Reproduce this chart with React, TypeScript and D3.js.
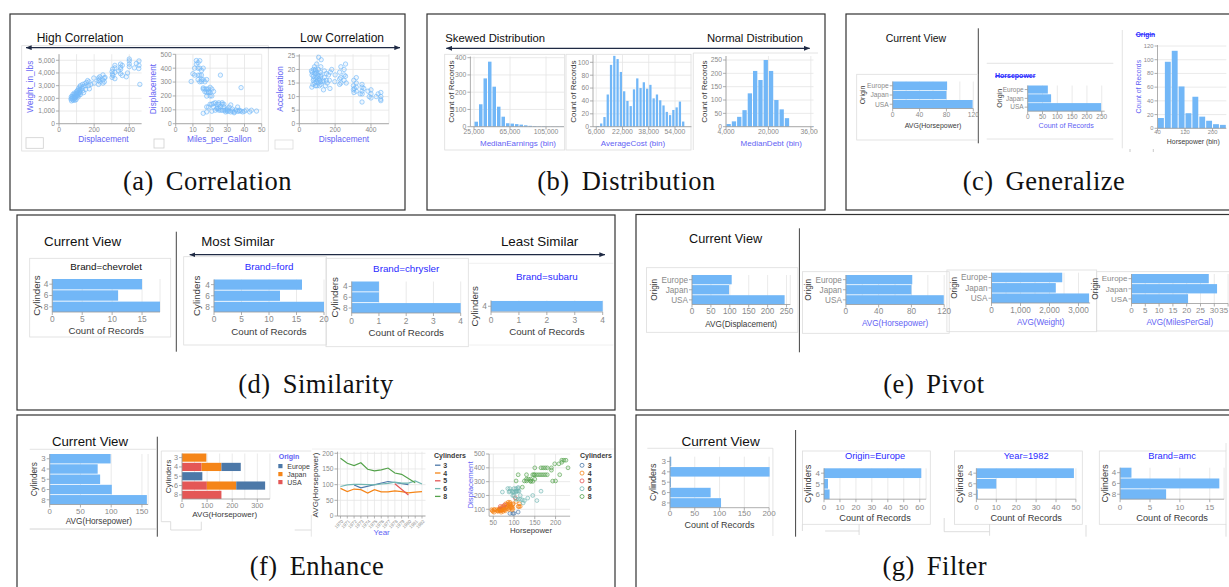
import React from "react";
import * as d3 from "d3";

const SANS = "'Liberation Sans', Arial, Helvetica, sans-serif";
const SERIF = "'Liberation Serif', 'Times New Roman', serif";
const BAR = "#72b7f7";
const GRID = "#e4e4e4";
const AX = "#9a9a9a";
const LAB = "#8a8a8a";
const DARK = "#3a3a3a";
const BLUE = "#6262f4";
const TBLUE = "#2a2aff";
const FRAME = "#dddddd";
const BORDER = "#333";
const ARROW = "#1f2a44";
const PT = "#74b9f8";
const fmtComma = d3.format(",");

// ---------------- (a) Correlation data ----------------
const corrDispWeight: [number, number][] = [
  [68,1950],[70,2130],[71,1800],[72,2000],[76,2150],[78,1900],[79,2050],[79,2300],[81,1850],[85,2070],
  [85,2200],[86,2400],[89,1980],[90,2130],[90,2300],[91,1850],[91,2050],[97,2150],[97,2400],[97,1900],
  [98,2220],[98,2500],[100,2300],[104,2600],[105,2200],[107,2450],[108,2100],[108,2650],[110,2350],[112,2800],
  [113,2250],[116,2500],[119,2700],[120,2450],[120,2900],[121,2600],[121,3000],[122,2300],[130,2800],[134,3100],
  [135,2600],[140,2950],[140,2450],[146,3150],[151,2700],[151,3000],[156,3250],[163,3400],[168,3000],[171,3300],
  [173,2750],[181,3100],[198,3600],[200,3200],[225,3400],[225,3600],[225,3100],[231,3500],[232,3300],[232,3700],
  [250,3450],[250,3850],[250,3200],[258,3600],[258,3300],[262,3650],[302,3650],[302,4100],[304,3900],[305,4300],
  [307,3800],[318,4050],[318,4400],[318,4600],[318,3550],[340,4150],[350,4450],[350,4700],[350,3950],[351,4300],
  [360,3800],[360,4600],[383,3700],[390,4000],[400,4500],[400,4950],[400,5100],[400,4700],[429,4400],[440,4750],
  [454,4350],[455,4950],[455,4600],[460,3100]
];
const corrMpgDisp: [number, number][] = [
  [9,304],[10,360],[11,400],[11,350],[12,455],[12,429],[13,400],[13,350],[13,318],[13,440],[14,454],[14,350],
  [14,302],[14,400],[15,350],[15,383],[15,318],[15,304],[16,400],[16,318],[16,250],[16,258],[17,302],[17,250],
  [17,231],[18,250],[18,225],[18,318],[18,199],[18,121],[19,232],[19,225],[19,250],[19,120],[20,262],[20,225],
  [20,140],[20,200],[21,250],[21,200],[21,140],[22,232],[22,146],[22,121],[23,97],[23,151],[24,113],[24,107],
  [24,140],[25,98],[25,110],[25,151],[25,140],[26,97],[26,121],[26,350],[27,97],[27,140],[27,151],[28,97],
  [28,120],[28,140],[29,98],[29,85],[30,98],[30,89],[30,107],[31,91],[31,119],[32,85],[32,135],[33,91],
  [33,105],[34,86],[34,79],[35,98],[36,89],[36,120],[37,91],[37,97],[38,91],[38,260],[39,85],[40,90],
  [41,98],[43,85],[44,97],[47,91],[16,75],[18,85],[21,90]
];
const corrDispAccel: [number, number][] = [
  [68,19.5],[70,13.5],[71,18],[72,19],[76,14.5],[78,16],[79,17.5],[79,20],[81,16.5],[85,18.5],[85,21],[86,15],
  [89,19.5],[90,20],[90,14],[91,16.5],[91,18.5],[97,15.5],[97,19],[97,22],[98,17],[98,14],[100,16],[104,18],
  [105,15],[107,20],[108,16.5],[108,24.5],[110,17.5],[112,14],[113,16],[116,19],[119,15.5],[120,17.5],[120,21],
  [121,14.5],[121,18],[122,23.6],[130,15.5],[134,16],[135,12.5],[140,17],[140,19.5],[146,14],[151,18.5],[151,16],
  [156,15],[163,18],[168,16],[171,13],[173,19],[181,20],[198,15.5],[200,18],[225,16.5],[225,19],[225,14.5],
  [231,17],[232,21],[232,15],[250,18],[250,16],[250,20],[258,17.5],[258,22],[262,15],[302,14],[302,12.5],
  [304,16],[305,11.5],[307,13],[318,15],[318,12],[318,13.5],[318,17],[340,11],[350,12],[350,13.5],[350,14.5],
  [350,8],[351,11],[360,13],[383,12],[390,10],[400,11],[400,12.5],[400,9.5],[429,10],[440,11],[454,9],
  [455,10],[455,11.5],[455,8.5]
];

// ---------------- (b) Distribution data ----------------
const medianEarningsCounts = [29,130,280,377,232,116,58,20,18,15,12,8,5,3,2,2,1,1,1,1];
const averageCostCounts = [1,5,15,50,96,110,105,85,55,40,32,58,75,60,69,59,65,44,50,41,33,23,18,26,30,39,8];
const medianDebtCounts = [10,20,37,62,125,209,175,250,209,100,65,32,0,0,0,0];
const earningsTicks = [25000, 65000, 105000];
const costTicks = [6000, 22000, 38000, 54000];
const debtTicks = [4000, 20000, 36000];

// ---------------- (c) Generalize data ----------------
const origins = ["Europe", "Japan", "USA"];
const avgHorsepowerByOrigin = [81, 80, 119];
const countByOrigin = [68, 79, 248];
const hpBinCounts = [15, 97, 113, 61, 22, 46, 17, 11, 6, 5];

// ---------------- (d) Similarity data ----------------
const cyl468 = ["4", "6", "8"];
const chevroletCounts = [15, 11, 18];
const fordCounts = [16, 12, 20];
const chryslerCounts = [1, 1, 4];
const subaruCats = ["4"];
const subaruCounts = [4];

// ---------------- (e) Pivot data ----------------
const avgDisplacement = [105, 98, 245];
const avgHorsepowerPivot = [81, 80, 119.5];
const avgWeight = [2439, 2217, 3365];
const avgMilesPerGal = [28, 31, 20.5];

// ---------------- (f) Enhance data ----------------
const cylAll = ["3", "4", "5", "6", "8"];
const avgHpByCyl = [99, 78, 82, 101, 158];
const stackUSA = [0, 78, 0, 99, 157];
const stackJapan = [97, 79, 0, 117, 0];
const stackEurope = [0, 77, 81, 115, 0];
const lineYears = [1970,1971,1972,1973,1974,1975,1976,1977,1978,1979,1980,1981,1982];
const hpCyl3Years = [1972, 1973, 1977, 1980];
const hpCyl3 = [99, 90, 110, 100];
const hpCyl4 = [88, 78, 86, 84, 73, 84, 77, 77, 80, 78, 74, 76, 78];
const hpCyl5Years = [1978, 1980];
const hpCyl5 = [103, 67];
const hpCyl6 = [94, 99, 101, 101, 100, 99, 102, 104, 108, 105, 105, 112, 102];
const hpCyl8Years = [1970,1971,1972,1973,1974,1975,1976,1977,1978,1979,1981];
const hpCyl8 = [184, 168, 161, 170, 149, 144, 147, 153, 137, 133, 106];
const cylColors = ["#4c78a8", "#f58518", "#e45756", "#72b7b2", "#54a24b"];
const scat3: [number, number][] = [[90,70],[97,70],[100,70],[110,80]];
const scat4: [number, number][] = [
  [46,97],[48,90],[49,85],[52,79],[52,98],[53,97],[58,98],[60,89],[61,85],[62,91],[63,97],[65,97],[65,98],
  [65,105],[67,90],[67,91],[67,98],[68,97],[68,108],[69,79],[70,97],[70,91],[71,98],[72,97],[72,120],[74,85],
  [75,98],[75,107],[75,121],[76,98],[76,116],[78,97],[79,89],[80,116],[80,140],[82,135],[83,120],[84,105],
  [85,134],[86,119],[86,151],[88,108],[88,140],[88,98],[90,151],[90,140],[91,122],[92,112],[92,135],[94,108],
  [95,120],[96,97],[97,107],[97,134],[98,140],[105,156],[110,121],[112,119],[113,140],[115,121]
];
const scat5: [number, number][] = [[67,121],[77,131],[103,183]];
const scat6: [number, number][] = [
  [72,225],[85,250],[88,225],[90,250],[90,232],[95,232],[97,199],[97,225],[100,250],[100,225],[100,200],
  [105,225],[105,250],[105,231],[105,173],[107,232],[110,258],[110,232],[110,250],[110,173],[112,231],[115,173],
  [115,200],[120,168],[122,146],[125,163],[133,181],[145,200],[155,163],[165,231]
];
const scat8: [number, number][] = [
  [105,305],[110,350],[120,260],[125,305],[130,305],[130,318],[130,350],[135,318],[140,302],[140,318],[140,305],
  [145,350],[145,302],[148,350],[150,400],[150,350],[150,318],[155,350],[160,350],[165,400],[165,350],[170,400],
  [170,350],[175,400],[175,350],[180,350],[180,400],[190,400],[190,383],[193,304],[198,429],[200,305],[208,429],
  [210,350],[215,440],[215,455],[220,455],[225,455],[230,400]
];
const originLegend = ["Europe", "Japan", "USA"];
const originColors = ["#4c78a8", "#f58518", "#e45756"];

// ---------------- (g) Filter data ----------------
const filterCurrentCounts = [2.5, 201, 2, 82, 103];
const europeCats = ["4", "5", "6"];
const europeCounts = [61, 2.5, 3.5];
const year1982Counts = [49, 10, 0.7];
const amcCounts = [1.9, 16.6, 7.7];

// ================= components =================
type HBarP = {
  cats: string[]; vals: number[]; max: number; x0: number; x1: number; y0: number; y1: number;
  ticks: number[]; grid?: number[]; endLine?: boolean; fs: number; tfs: number; labelY: number;
  xTitle: string; xTitleY: number; xTitleColor?: string; yTitle: string; yTitleX: number;
  title?: string; titleY?: number; titleSize?: number; titleColor?: string; flushLast?: boolean;
};
function HBar(p: HBarP) {
  const x = d3.scaleLinear().domain([0, p.max]).range([p.x0, p.x1]);
  const y = d3.scaleBand<string>().domain(p.cats).range([p.y0, p.y1]).paddingInner(0.08);
  const grid = p.grid ?? p.ticks;
  const cx = (p.x0 + p.x1) / 2;
  const n = p.ticks.length;
  return (
    <g>
      {grid.map((v, i) => <line key={"g" + i} x1={x(v)} x2={x(v)} y1={p.y0} y2={p.y1} stroke={GRID} strokeWidth={0.8} />)}
      {p.endLine && <line x1={p.x1} x2={p.x1} y1={p.y0} y2={p.y1} stroke={GRID} strokeWidth={0.8} />}
      {p.cats.map((c, i) => (
        <rect key={"b" + c} x={p.x0} y={y(c)} width={Math.max(0, x(p.vals[i]) - p.x0)} height={y.bandwidth()} fill={BAR} />
      ))}
      <line x1={p.x0} x2={p.x0} y1={p.y0} y2={p.y1} stroke={AX} strokeWidth={0.8} />
      <line x1={p.x0} x2={p.x1} y1={p.y1} y2={p.y1} stroke={AX} strokeWidth={0.8} />
      {p.cats.map((c) => {
        const cy = (y(c) as number) + y.bandwidth() / 2;
        return (
          <g key={"t" + c}>
            <line x1={p.x0 - 3} x2={p.x0} y1={cy} y2={cy} stroke={AX} strokeWidth={0.8} />
            <text x={p.x0 - 4} y={cy} dy="0.35em" textAnchor="end" fontSize={p.fs} fill={LAB}>{c}</text>
          </g>
        );
      })}
      {p.ticks.map((v, i) => (
        <g key={"x" + i}>
          <line x1={x(v)} x2={x(v)} y1={p.y1} y2={p.y1 + 3} stroke={AX} strokeWidth={0.8} />
          <text x={x(v)} y={p.labelY} textAnchor={p.flushLast && i === n - 1 ? "end" : "middle"} fontSize={p.fs} fill={LAB}>{fmtComma(v)}</text>
        </g>
      ))}
      <text x={cx} y={p.xTitleY} textAnchor="middle" fontSize={p.tfs} fill={p.xTitleColor ?? DARK}>{p.xTitle}</text>
      <text transform={`translate(${p.yTitleX},${(p.y0 + p.y1) / 2}) rotate(-90)`} dy="0.35em" textAnchor="middle" fontSize={p.tfs} fill={DARK}>{p.yTitle}</text>
      {p.title && <text x={cx} y={p.titleY} textAnchor="middle" fontSize={p.titleSize} fill={p.titleColor ?? "#111"}>{p.title}</text>}
    </g>
  );
}

type HistP = {
  counts: number[]; start: number; step: number; xDom: [number, number]; xRng: [number, number];
  yMax: number; yAtMax: number; yBase: number; plotTop: number; yTicks: number[]; xTicks: number[];
  fs: number; tfs: number; labelY: number; xTitle: string; xTitleX: number; xTitleY: number; xTitleColor: string;
  yTitle: string; yTitleX: number; yTitleY: number; yTitleColor: string; vGrid?: boolean;
};
function Hist(p: HistP) {
  const x = d3.scaleLinear().domain(p.xDom).range(p.xRng);
  const y = d3.scaleLinear().domain([0, p.yMax]).range([p.yBase, p.yAtMax]);
  return (
    <g>
      {p.yTicks.map((v, i) => <line key={"h" + i} x1={p.xRng[0]} x2={p.xRng[1]} y1={y(v)} y2={y(v)} stroke={GRID} strokeWidth={0.8} />)}
      {p.vGrid && p.xTicks.map((v, i) => <line key={"v" + i} x1={x(v)} x2={x(v)} y1={p.plotTop} y2={p.yBase} stroke={GRID} strokeWidth={0.8} />)}
      {p.counts.map((c, i) => {
        const a = p.start + i * p.step;
        const xa = x(a) + 0.5, xb = x(a + p.step) - 0.5;
        return c > 0 ? <rect key={"b" + i} x={xa} y={y(c)} width={Math.max(0.3, xb - xa)} height={p.yBase - y(c)} fill={BAR} /> : null;
      })}
      <line x1={p.xRng[0]} x2={p.xRng[0]} y1={p.plotTop} y2={p.yBase} stroke={AX} strokeWidth={0.8} />
      <line x1={p.xRng[0]} x2={p.xRng[1]} y1={p.yBase} y2={p.yBase} stroke={AX} strokeWidth={0.8} />
      {p.yTicks.map((v, i) => (
        <g key={"yt" + i}>
          <line x1={p.xRng[0] - 3} x2={p.xRng[0]} y1={y(v)} y2={y(v)} stroke={AX} strokeWidth={0.8} />
          <text x={p.xRng[0] - 4} y={y(v)} dy="0.35em" textAnchor="end" fontSize={p.fs} fill={LAB}>{fmtComma(v)}</text>
        </g>
      ))}
      {p.xTicks.map((v, i) => (
        <g key={"xt" + i}>
          <line x1={x(v)} x2={x(v)} y1={p.yBase} y2={p.yBase + 3} stroke={AX} strokeWidth={0.8} />
          <text x={x(v)} y={p.labelY} textAnchor="middle" fontSize={p.fs} fill={LAB}>{fmtComma(v)}</text>
        </g>
      ))}
      <text x={p.xTitleX} y={p.xTitleY} textAnchor="middle" fontSize={p.tfs} fill={p.xTitleColor}>{p.xTitle}</text>
      <text transform={`translate(${p.yTitleX},${p.yTitleY}) rotate(-90)`} dy="0.35em" textAnchor="middle" fontSize={p.tfs} fill={p.yTitleColor}>{p.yTitle}</text>
    </g>
  );
}

type ScatP = {
  groups: { pts: [number, number][]; color: string }[];
  xDom: [number, number]; xRng: [number, number]; yDom: [number, number]; yRng: [number, number];
  xTicks: number[]; xGrid?: number[]; yTicks: number[]; fs: number; tfs: number; labelY: number;
  xTitle: string; xTitleX: number; xTitleY: number; xTitleColor: string;
  yTitle: string; yTitleX: number; yTitleY: number; yTitleColor: string; r?: number;
};
function Scatter(p: ScatP) {
  const x = d3.scaleLinear().domain(p.xDom).range(p.xRng);
  const y = d3.scaleLinear().domain(p.yDom).range(p.yRng);
  const xg = p.xGrid ?? p.xTicks;
  const x0 = p.xRng[0], x1 = p.xRng[1], yb = p.yRng[0], yt = p.yRng[1];
  return (
    <g>
      {xg.map((v, i) => <line key={"xg" + i} x1={x(v)} x2={x(v)} y1={yt} y2={yb} stroke={GRID} strokeWidth={0.8} />)}
      {p.yTicks.map((v, i) => <line key={"yg" + i} x1={x0} x2={x1} y1={y(v)} y2={y(v)} stroke={GRID} strokeWidth={0.8} />)}
      {p.groups.map((g, gi) => g.pts.map((d, i) => (
        <circle key={gi + "-" + i} cx={x(d[0])} cy={y(d[1])} r={p.r ?? 2.2} fill={g.color} fillOpacity={0.12} stroke={g.color} strokeWidth={0.75} strokeOpacity={0.85} />
      )))}
      <line x1={x0} x2={x0} y1={yt} y2={yb} stroke={AX} strokeWidth={0.8} />
      <line x1={x0} x2={x1} y1={yb} y2={yb} stroke={AX} strokeWidth={0.8} />
      {p.yTicks.map((v, i) => (
        <g key={"yt" + i}>
          <line x1={x0 - 3} x2={x0} y1={y(v)} y2={y(v)} stroke={AX} strokeWidth={0.8} />
          <text x={x0 - 4} y={y(v)} dy="0.35em" textAnchor="end" fontSize={p.fs} fill={LAB}>{fmtComma(v)}</text>
        </g>
      ))}
      {p.xTicks.map((v, i) => (
        <g key={"xt" + i}>
          <line x1={x(v)} x2={x(v)} y1={yb} y2={yb + 3} stroke={AX} strokeWidth={0.8} />
          <text x={x(v)} y={p.labelY} textAnchor="middle" fontSize={p.fs} fill={LAB}>{fmtComma(v)}</text>
        </g>
      ))}
      <text x={p.xTitleX} y={p.xTitleY} textAnchor="middle" fontSize={p.tfs} fill={p.xTitleColor}>{p.xTitle}</text>
      <text transform={`translate(${p.yTitleX},${p.yTitleY}) rotate(-90)`} dy="0.35em" textAnchor="middle" fontSize={p.tfs} fill={p.yTitleColor}>{p.yTitle}</text>
    </g>
  );
}

function Caption({ cx, y, tag, word }: { cx: number; y: number; tag: string; word: string }) {
  return (
    <text x={cx} y={y} textAnchor="middle" fontFamily={SERIF} fontSize={26.5} fill="#111" style={{ letterSpacing: "0.5px" }}>
      <tspan>{tag}</tspan><tspan dx={12}>{word}</tspan>
    </text>
  );
}

function StackedChart() {
  const rows = cylAll.map((c, i) => ({ cyl: c, USA: stackUSA[i], Japan: stackJapan[i], Europe: stackEurope[i] }));
  const keys = ["USA", "Japan", "Europe"];
  const colorOf: Record<string, string> = { Europe: originColors[0], Japan: originColors[1], USA: originColors[2] };
  const stacked = d3.stack<any>().keys(keys)(rows);
  const x0 = 182, x1 = 269.9, y0 = 453.5, y1 = 499;
  const x = d3.scaleLinear().domain([0, 350]).range([x0, x1]);
  const y = d3.scaleBand<string>().domain(cylAll).range([y0, y1]).paddingInner(0.12);
  const ticks = [0, 100, 200, 300];
  const grid = [0, 50, 100, 150, 200, 250, 300, 350];
  return (
    <g>
      {grid.map((v, i) => <line key={"g" + i} x1={x(v)} x2={x(v)} y1={y0} y2={y1} stroke={GRID} strokeWidth={0.8} />)}
      {stacked.map((s) => s.map((d, i) => d[1] - d[0] > 0 ? (
        <rect key={s.key + i} x={x(d[0])} y={y(cylAll[i])} width={x(d[1]) - x(d[0])} height={y.bandwidth()} fill={colorOf[s.key]} />
      ) : null))}
      <line x1={x0} x2={x0} y1={y0} y2={y1} stroke={AX} strokeWidth={0.8} />
      <line x1={x0} x2={x1} y1={y1} y2={y1} stroke={AX} strokeWidth={0.8} />
      {cylAll.map((c) => {
        const cy = (y(c) as number) + y.bandwidth() / 2;
        return (
          <g key={"t" + c}>
            <line x1={x0 - 3} x2={x0} y1={cy} y2={cy} stroke={AX} strokeWidth={0.8} />
            <text x={x0 - 4} y={cy} dy="0.35em" textAnchor="end" fontSize={7.3} fill={LAB}>{c}</text>
          </g>
        );
      })}
      {ticks.map((v) => (
        <g key={"x" + v}>
          <line x1={x(v)} x2={x(v)} y1={y1} y2={y1 + 3} stroke={AX} strokeWidth={0.8} />
          <text x={x(v)} y={507.7} textAnchor="middle" fontSize={7.3} fill={LAB}>{v}</text>
        </g>
      ))}
      <text x={224.7} y={516.7} textAnchor="middle" fontSize={8} fill={DARK}>AVG(Horsepower)</text>
      <text transform={`translate(168,476.5) rotate(-90)`} dy="0.35em" textAnchor="middle" fontSize={8} fill={DARK}>Cylinders</text>
      <text x={278.7} y={459} fontSize={7} fontWeight="bold" fill={BLUE}>Origin</text>
      {originLegend.map((o, i) => (
        <g key={o}>
          <rect x={278.3} y={469 + i * 8 - 5} width={4.2} height={4.2} fill={originColors[i]} />
          <text x={287.3} y={469 + i * 8} fontSize={7} fill={DARK}>{o}</text>
        </g>
      ))}
    </g>
  );
}

function LineChart() {
  const x = d3.scalePoint<number>().domain(lineYears).range([340.5, 422]);
  const y = d3.scaleLinear().domain([0, 200]).range([516, 453.3]);
  const series = [
    { yrs: hpCyl3Years, v: hpCyl3 },
    { yrs: lineYears, v: hpCyl4 },
    { yrs: hpCyl5Years, v: hpCyl5 },
    { yrs: lineYears, v: hpCyl6 },
    { yrs: hpCyl8Years, v: hpCyl8 },
  ];
  const line = d3.line<[number, number]>().x((d) => x(d[0]) as number).y((d) => y(d[1]));
  const xl = 337.5, xr = 425.5, yb = 516, yt = 451.7;
  return (
    <g>
      {lineYears.map((yr) => <line key={"vg" + yr} x1={x(yr)} x2={x(yr)} y1={yt} y2={yb} stroke={GRID} strokeWidth={0.7} />)}
      {[0, 50, 100, 150, 200].map((v) => <line key={"hg" + v} x1={xl} x2={xr} y1={y(v)} y2={y(v)} stroke={GRID} strokeWidth={0.8} />)}
      {series.map((s, i) => (
        <path key={"s" + i} d={line(s.yrs.map((yr, j) => [yr, s.v[j]] as [number, number])) as string} fill="none" stroke={cylColors[i]} strokeWidth={1.2} />
      ))}
      <line x1={xl} x2={xl} y1={yt} y2={yb} stroke={AX} strokeWidth={0.8} />
      <line x1={xl} x2={xr} y1={yb} y2={yb} stroke={AX} strokeWidth={0.8} />
      {[0, 50, 100, 150, 200].map((v) => (
        <g key={"yt" + v}>
          <line x1={xl - 3} x2={xl} y1={y(v)} y2={y(v)} stroke={AX} strokeWidth={0.8} />
          <text x={xl - 4} y={y(v)} dy="0.35em" textAnchor="end" fontSize={6.7} fill={LAB}>{v}</text>
        </g>
      ))}
      {lineYears.map((yr) => (
        <g key={"xt" + yr}>
          <line x1={x(yr)} x2={x(yr)} y1={yb} y2={yb + 2.5} stroke={AX} strokeWidth={0.7} />
          <text transform={`translate(${(x(yr) as number) + 1.5},${yb + 4}) rotate(-45)`} textAnchor="end" dy="0.5em" fontSize={4.6} fill={LAB}>{yr}</text>
        </g>
      ))}
      <text x={381.7} y={535} textAnchor="middle" fontSize={8} fill={BLUE}>Year</text>
      <text transform={`translate(315,485) rotate(-90)`} dy="0.35em" textAnchor="middle" fontSize={8} fill={DARK}>AVG(Horsepower)</text>
      <text x={434} y={458.3} fontSize={7} fontWeight="bold" fill={DARK}>Cylinders</text>
      {cylAll.map((c, i) => (
        <g key={"lg" + c}>
          <line x1={435} x2={440.5} y1={467.7 + i * 7.8 - 2.5} y2={467.7 + i * 7.8 - 2.5} stroke={cylColors[i]} strokeWidth={1.3} />
          <text x={443.3} y={467.7 + i * 7.8} fontSize={7} fontWeight="bold" fill={DARK}>{c}</text>
        </g>
      ))}
    </g>
  );
}

const fr = (x: number, y: number, w: number, h: number, k: string) => (
  <rect key={k} x={x} y={y} width={w} height={h} fill="none" stroke={FRAME} strokeWidth={0.8} />
);

export default function App() {
  const cyl5Groups = [scat3, scat4, scat5, scat6, scat8].map((pts, i) => ({ pts, color: cylColors[i] }));
  return (
    <svg width={1229} height={587} viewBox="0 0 1229 587" style={{ position: "absolute", left: 0, top: 0, background: "#fff" }} fontFamily={SANS}>
      <defs>
        <marker id="ah" viewBox="0 0 10 8" refX="9.5" refY="4" markerWidth="6" markerHeight="4.8" orient="auto-start-reverse" markerUnits="userSpaceOnUse">
          <path d="M0,0 L10,4 L0,8 z" fill={ARROW} />
        </marker>
        <clipPath id="clipB3"><rect x={693} y={45} width={125} height={110} /></clipPath>
      </defs>
      <rect x={0} y={0} width={1229} height={587} fill="#fff" />

      {/* ================= (a) ================= */}
      <rect x={10} y={14} width={395} height={196} fill="none" stroke={BORDER} strokeWidth={1.2} />
      <text x={36.7} y={41.7} fontSize={12} fill="#111">High Correlation</text>
      <text x={384} y={41.7} fontSize={12} textAnchor="end" fill="#111">Low Correlation</text>
      {fr(21.7, 45.7, 246.6, 105.3, "fa")}
      <Scatter groups={[{ pts: corrDispWeight, color: PT }]} xDom={[0, 470]} xRng={[59, 141.6]} yDom={[0, 5480]} yRng={[123.7, 54.2]}
        xTicks={[0, 200, 400]} xGrid={[0, 100, 200, 300, 400]} yTicks={[0, 1000, 2000, 3000, 4000, 5000]} fs={6.7} tfs={8.3} labelY={132.3}
        xTitle="Displacement" xTitleX={103.5} xTitleY={141.7} xTitleColor={BLUE} yTitle="Weight_in_lbs" yTitleX={30} yTitleY={86.7} yTitleColor={BLUE} />
      <Scatter groups={[{ pts: corrMpgDisp, color: PT }]} xDom={[0, 50]} xRng={[175.7, 261.7]} yDom={[0, 500]} yRng={[123.7, 54.3]}
        xTicks={[0, 10, 20, 30, 40, 50]} yTicks={[0, 100, 200, 300, 400, 500]} fs={6.7} tfs={8.3} labelY={132.3}
        xTitle="Miles_per_Gallon" xTitleX={219.3} xTitleY={142.3} xTitleColor={BLUE} yTitle="Displacement" yTitleX={152.7} yTitleY={89} yTitleColor={BLUE} />
      <Scatter groups={[{ pts: corrDispAccel, color: PT }]} xDom={[0, 500]} xRng={[299.3, 388.9]} yDom={[0, 25.6]} yRng={[123.7, 54.3]}
        xTicks={[0, 200, 400]} xGrid={[0, 100, 200, 300, 400, 500]} yTicks={[0, 5, 10, 15, 20, 25]} fs={6.7} tfs={8.3} labelY={132.3}
        xTitle="Displacement" xTitleX={344} xTitleY={142.3} xTitleColor={BLUE} yTitle="Acceleration" yTitleX={280} yTitleY={89} yTitleColor={BLUE} />
      <line x1={26} x2={400} y1={47.7} y2={47.7} stroke={ARROW} strokeWidth={1.3} markerStart="url(#ah)" markerEnd="url(#ah)" />
      <rect x={26} y={137.7} width={17.3} height={10.6} fill="none" stroke="#cfcfcf" strokeWidth={0.8} />
      <rect x={154} y={139} width={10} height={9} fill="none" stroke="#cfcfcf" strokeWidth={0.8} />
      <rect x={275} y={140} width={18} height={9} fill="none" stroke="#dcdcdc" strokeWidth={0.8} />
      <Caption cx={207.5} y={190} tag="(a)" word="Correlation" />

      {/* ================= (b) ================= */}
      <rect x={427} y={14} width={398} height={196} fill="none" stroke={BORDER} strokeWidth={1.2} />
      <text x={445.3} y={41.7} fontSize={11.3} fill="#111">Skewed Distribution</text>
      <text x={803} y={41.7} fontSize={11.3} textAnchor="end" fill="#111">Normal Distribution</text>
      {fr(444.7, 54.3, 120, 95.7, "fb1")}
      {fr(566, 54.3, 125, 95.7, "fb2")}
      <line x1={693.3} x2={818} y1={53} y2={53} stroke={FRAME} strokeWidth={0.8} />
      <line x1={693.3} x2={693.3} y1={53} y2={150} stroke={FRAME} strokeWidth={0.8} />
      <Hist counts={medianEarningsCounts} start={25000} step={5000} xDom={[21000, 125000]} xRng={[470.4, 564]}
        yMax={400} yAtMax={57.7} yBase={126.7} plotTop={56.5} yTicks={[0, 100, 200, 300, 400]} xTicks={earningsTicks}
        fs={6.8} tfs={8} labelY={134.3} xTitle="MedianEarnings (bin)" xTitleX={518} xTitleY={145.7} xTitleColor={BLUE}
        yTitle="Count of Records" yTitleX={451.3} yTitleY={91.7} yTitleColor={DARK} vGrid />
      <Hist counts={averageCostCounts} start={6000} step={2000} xDom={[4000, 64000]} xRng={[593, 691.4]}
        yMax={100} yAtMax={62.3} yBase={126.7} plotTop={55} yTicks={[0, 20, 40, 60, 80, 100]} xTicks={costTicks}
        fs={6.8} tfs={8} labelY={134.3} xTitle="AverageCost (bin)" xTitleX={633} xTitleY={145.7} xTitleColor={BLUE}
        yTitle="Count of Records" yTitleX={573} yTitleY={91.7} yTitleColor={DARK} vGrid />
      <g clipPath="url(#clipB3)">
        <Hist counts={medianDebtCounts} start={4000} step={2000} xDom={[4000, 37000]} xRng={[726, 813.5]}
          yMax={250} yAtMax={60} yBase={126.7} plotTop={56} yTicks={[0, 50, 100, 150, 200, 250]} xTicks={debtTicks}
          fs={6.8} tfs={8} labelY={134.3} xTitle="MedianDebt (bin)" xTitleX={771.3} xTitleY={145.7} xTitleColor={BLUE}
          yTitle="Count of Records" yTitleX={704} yTitleY={91.7} yTitleColor={DARK} vGrid />
        <rect x={812.5} y={126.2} width={1.2} height={0.5} fill={BAR} />
      </g>
      <line x1={446.3} x2={809.7} y1={48.3} y2={48.3} stroke={ARROW} strokeWidth={1.3} markerStart="url(#ah)" markerEnd="url(#ah)" />
      <Caption cx={626.5} y={190} tag="(b)" word="Distribution" />

      {/* ================= (c) ================= */}
      <rect x={846} y={14} width={400} height={196} fill="none" stroke={BORDER} strokeWidth={1.2} />
      <text x={885.7} y={41.7} fontSize={10.5} fill="#111">Current View</text>
      <line x1={978.3} x2={978.3} y1={28.3} y2={143.3} stroke="#444" strokeWidth={1} />
      {fr(856.7, 74.3, 121, 65.7, "fc1")}
      <HBar cats={origins} vals={avgHorsepowerByOrigin} max={120} x0={892.7} x1={973.3} y0={81.5} y1={108.5}
        ticks={[0, 40, 80, 120]} grid={[0, 20, 40, 60, 80, 100, 120]} fs={6.7} tfs={7} labelY={116.7}
        xTitle="AVG(Horsepower)" xTitleY={127.7} yTitle="Origin" yTitleX={862.3} />
      <line x1={986.7} x2={1113.3} y1={63.3} y2={63.3} stroke={FRAME} strokeWidth={0.8} />
      <line x1={986.7} x2={1113.3} y1={139} y2={139} stroke={FRAME} strokeWidth={0.8} />
      <text x={995} y={78.3} fontSize={7} fontWeight="bold" fill={TBLUE} style={{ textDecoration: "line-through" }}>Horsepower</text>
      <HBar cats={origins} vals={countByOrigin} max={260} x0={1027.7} x1={1104.7} y0={85.5} y1={111.2}
        ticks={[0, 50, 100, 150, 200, 250]} fs={6.5} tfs={7.1} labelY={119}
        xTitle="Count of Records" xTitleY={128.3} xTitleColor={BLUE} yTitle="Origin" yTitleX={999} />
      <line x1={1122.3} x2={1122.3} y1={30} y2={148.3} stroke={FRAME} strokeWidth={0.8} />
      <text x={1135.7} y={36.7} fontSize={6.6} fontWeight="bold" fill={TBLUE} style={{ textDecoration: "line-through" }}>Origin</text>
      <Hist counts={hpBinCounts} start={40} step={20} xDom={[40, 240]} xRng={[1157.5, 1226.3]}
        yMax={120} yAtMax={46} yBase={128.3} plotTop={45} yTicks={[0, 20, 40, 60, 80, 100, 120]} xTicks={[40, 120, 200]}
        fs={5.8} tfs={6.9} labelY={134.3} xTitle="Horsepower (bin)" xTitleX={1193.3} xTitleY={144.3} xTitleColor={DARK}
        yTitle="Count of Records" yTitleX={1139} yTitleY={86.7} yTitleColor={BLUE} />
      <line x1={1130} x2={1130} y1={149} y2={152} stroke="#bbb" strokeWidth={0.8} />
      <line x1={1153.3} x2={1153.3} y1={149} y2={152} stroke="#bbb" strokeWidth={0.8} />
      <Caption cx={1044} y={190} tag="(c)" word="Generalize" />

      {/* ================= (d) ================= */}
      <rect x={17} y={215} width={598} height={195} fill="none" stroke={BORDER} strokeWidth={1.2} />
      <text x={44} y={246} fontSize={13.4} fill="#111">Current View</text>
      <text x={201.3} y={246} fontSize={13.3} fill="#111">Most Similar</text>
      <text x={578.3} y={246} fontSize={13.4} textAnchor="end" fill="#111">Least Similar</text>
      <line x1={176.3} x2={176.3} y1={231.7} y2={351.7} stroke="#444" strokeWidth={1} />
      {fr(29.7, 258.3, 141, 78.7, "fd1")}
      {fr(183.7, 256.7, 142.6, 88.3, "fd2")}
      {fr(326, 258.3, 142.3, 88.4, "fd3")}
      <line x1={469.3} x2={613.3} y1={263.3} y2={263.3} stroke="#ececec" strokeWidth={0.8} />
      <line x1={469.3} x2={613.3} y1={345} y2={345} stroke="#ececec" strokeWidth={0.8} />
      <HBar cats={cyl468} vals={chevroletCounts} max={18} x0={52.3} x1={160} y0={279} y1={312}
        ticks={[0, 5, 10, 15]} endLine fs={8.4} tfs={9.7} labelY={322.3}
        xTitle="Count of Records" xTitleY={334.3} yTitle="Cylinders" yTitleX={36.3}
        title="Brand=chevrolet" titleY={270} titleSize={9.8} titleColor="#111" />
      <HBar cats={cyl468} vals={fordCounts} max={20} x0={214} x1={324} y0={279.5} y1={312}
        ticks={[0, 5, 10, 15, 20]} fs={8.4} tfs={9.7} labelY={322.3}
        xTitle="Count of Records" xTitleY={335} yTitle="Cylinders" yTitleX={197}
        title="Brand=ford" titleY={270} titleSize={9.8} titleColor={TBLUE} />
      <HBar cats={cyl468} vals={chryslerCounts} max={4} x0={351.7} x1={460.7} y0={281.5} y1={313}
        ticks={[0, 1, 2, 3, 4]} fs={8.4} tfs={9.7} labelY={324.3}
        xTitle="Count of Records" xTitleY={335.7} yTitle="Cylinders" yTitleX={335}
        title="Brand=chrysler" titleY={271.7} titleSize={9.8} titleColor={TBLUE} />
      <HBar cats={subaruCats} vals={subaruCounts} max={4} x0={491} x1={602.7} y0={300.5} y1={312}
        ticks={[0, 1, 2, 3, 4]} fs={8.4} tfs={9.7} labelY={323.3}
        xTitle="Count of Records" xTitleY={335} yTitle="Cylinders" yTitleX={475}
        title="Brand=subaru" titleY={280} titleSize={9.8} titleColor={TBLUE} />
      <line x1={189.7} x2={605} y1={254.7} y2={254.7} stroke={ARROW} strokeWidth={1.3} markerStart="url(#ah)" markerEnd="url(#ah)" />
      <Caption cx={316} y={393} tag="(d)" word="Similarity" />

      {/* ================= (e) ================= */}
      <rect x={636} y={214.5} width={600} height={195.5} fill="none" stroke={BORDER} strokeWidth={1.2} />
      <text x={689} y={243.3} fontSize={12.7} fill="#111">Current View</text>
      <line x1={799.4} x2={799.4} y1={228.3} y2={352.3} stroke="#444" strokeWidth={1} />
      {fr(646.6, 267.7, 151.3, 64.6, "fe1")}
      {fr(802.4, 271.7, 146.8, 61.6, "fe2")}
      {fr(946.9, 270, 149.8, 61.7, "fe3")}
      {fr(1096.7, 271.7, 140, 59.3, "fe4")}
      <HBar cats={origins} vals={avgDisplacement} max={260} x0={692} x1={790.3} y0={275} y1={304.5}
        ticks={[0, 50, 100, 150, 200, 250]} endLine fs={8.2} tfs={8.2} labelY={314.3}
        xTitle="AVG(Displacement)" xTitleY={326.7} yTitle="Origin" yTitleX={653.8} />
      <HBar cats={origins} vals={avgHorsepowerPivot} max={120} x0={845.9} x1={944.2} y0={275} y1={304.5}
        ticks={[0, 40, 80, 120]} grid={[0, 20, 40, 60, 80, 100, 120]} fs={8.2} tfs={8.2} labelY={314.3}
        xTitle="AVG(Horsepower)" xTitleY={326} xTitleColor={BLUE} yTitle="Origin" yTitleX={808.1} />
      <HBar cats={origins} vals={avgWeight} max={3400} x0={991.5} x1={1090.1} y0={272.7} y1={303}
        ticks={[0, 1000, 2000, 3000]} grid={[0, 500, 1000, 1500, 2000, 2500, 3000]} fs={8.2} tfs={8.2} labelY={313.3}
        xTitle="AVG(Weight)" xTitleY={325} xTitleColor={BLUE} yTitle="Origin" yTitleX={953.7} />
      <HBar cats={origins} vals={avgMilesPerGal} max={35} x0={1131.5} x1={1228.1} y0={274} y1={303.5}
        ticks={[0, 5, 10, 15, 20, 25, 30, 35]} flushLast fs={8} tfs={8.2} labelY={313}
        xTitle="AVG(MilesPerGal)" xTitleY={325} xTitleColor={BLUE} yTitle="Origin" yTitleX={1095.5} />
      <Caption cx={934} y={393} tag="(e)" word="Pivot" />

      {/* ================= (f) ================= */}
      <rect x={17} y={415} width={598} height={200} fill="none" stroke={BORDER} strokeWidth={1.2} />
      <text x={52} y={445.7} fontSize={13.2} fill="#111">Current View</text>
      <line x1={157.3} x2={157.3} y1={436.7} y2={536.7} stroke="#444" strokeWidth={1} />
      <line x1={29.7} x2={156.3} y1={449.3} y2={449.3} stroke={FRAME} strokeWidth={0.8} />
      <line x1={29.7} x2={156.3} y1={529} y2={529} stroke="#cfcfcf" strokeWidth={0.9} />
      <HBar cats={cylAll} vals={avgHpByCyl} max={160} x0={49.7} x1={148.1} y0={454} y1={504.5}
        ticks={[0, 50, 100, 150]} endLine fs={7.8} tfs={8.2} labelY={514.3}
        xTitle="AVG(Horsepower)" xTitleY={524.3} yTitle="Cylinders" yTitleX={33.7} />
      <polyline points="161.3,521.7 161.3,451 311.3,451" fill="none" stroke={FRAME} strokeWidth={0.8} />
      <polyline points="161.3,521.7 170.7,521.7 170.7,530 201.3,530 201.3,521.7" fill="none" stroke="#d4d4d4" strokeWidth={0.8} />
      <polyline points="294.7,530 311.3,530" fill="none" stroke="#d4d4d4" strokeWidth={0.8} />
      <line x1={311.3} x2={311.3} y1={515} y2={536.7} stroke="#e0e0e0" strokeWidth={0.8} />
      <line x1={312} x2={614} y1={449} y2={449} stroke="#ececec" strokeWidth={0.8} />
      <StackedChart />
      <LineChart />
      <Scatter groups={cyl5Groups} xDom={[40, 235]} xRng={[489.1, 570.1]} yDom={[50, 500]} yRng={[516.2, 454]}
        xTicks={[50, 100, 150, 200]} yTicks={[100, 200, 300, 400, 500]} fs={6.7} tfs={7.8} labelY={525}
        xTitle="Horsepower" xTitleX={531} xTitleY={533.3} xTitleColor={DARK} yTitle="Displacement" yTitleX={470} yTitleY={485} yTitleColor={BLUE} r={1.9} />
      <text x={580} y={458.3} fontSize={7} fontWeight="bold" fill={DARK}>Cylinders</text>
      {cylAll.map((c, i) => (
        <g key={"sl" + c}>
          <circle cx={582} cy={467.7 + i * 7.8 - 2.4} r={2} fill="none" stroke={cylColors[i]} strokeWidth={0.8} />
          <text x={587.7} y={467.7 + i * 7.8} fontSize={7} fontWeight="bold" fill={DARK}>{c}</text>
        </g>
      ))}
      <Caption cx={317} y={575} tag="(f)" word="Enhance" />

      {/* ================= (g) ================= */}
      <rect x={636} y={415} width={600} height={200} fill="none" stroke={BORDER} strokeWidth={1.2} />
      <text x={681.4} y={445.7} fontSize={13.6} fill="#111">Current View</text>
      <line x1={795.6} x2={795.6} y1={430} y2={536.7} stroke="#444" strokeWidth={1} />
      <polyline points="647.3,448.3 772.9,448.3 772.9,536" fill="none" stroke={FRAME} strokeWidth={0.8} />
      <HBar cats={cylAll} vals={filterCurrentCounts} max={200} x0={670} x1={769.1} y0={456.7} y1={507.7}
        ticks={[0, 50, 100, 150, 200]} fs={8} tfs={9} labelY={516}
        xTitle="Count of Records" xTitleY={527.7} yTitle="Cylinders" yTitleX={653} />
      {fr(802.4, 451, 127.9, 73.3, "fg1")}
      {fr(954.5, 451, 127.8, 73.3, "fg2")}
      {fr(1099.3, 451, 126.7, 73.3, "fg3")}
      <HBar cats={europeCats} vals={europeCounts} max={64} x0={824} x1={926.1} y0={468.3} y1={499.2}
        ticks={[0, 10, 20, 30, 40, 50, 60]} endLine fs={8} tfs={9.2} labelY={510}
        xTitle="Count of Records" xTitleY={521} yTitle="Cylinders" yTitleX={808.1}
        title="Origin=Europe" titleY={459} titleSize={9.3} titleColor={TBLUE} />
      <HBar cats={cyl468} vals={year1982Counts} max={50} x0={976.4} x1={1075.9} y0={468.3} y1={499.2}
        ticks={[0, 10, 20, 30, 40, 50]} fs={8} tfs={9.2} labelY={510}
        xTitle="Count of Records" xTitleY={521} yTitle="Cylinders" yTitleX={959.4}
        title="Year=1982" titleY={459} titleSize={9.3} titleColor={TBLUE} />
      <HBar cats={cyl468} vals={amcCounts} max={17.4} x0={1120.1} x1={1224.1} y0={467.7} y1={499.2}
        ticks={[0, 5, 10, 15]} endLine fs={8} tfs={9.2} labelY={510}
        xTitle="Count of Records" xTitleY={521} yTitle="Cylinders" yTitleX={1105}
        title="Brand=amc" titleY={459} titleSize={9.3} titleColor={TBLUE} />
      <line x1={1226} x2={1226} y1={443} y2={451} stroke={FRAME} strokeWidth={0.8} />
      <polyline points="802.4,524.3 802.4,531" fill="none" stroke="#d4d4d4" strokeWidth={0.8} />
      <polyline points="825.1,531 859.1,531" fill="none" stroke="#d4d4d4" strokeWidth={0.8} />
      <polyline points="859.1,524.3 859.1,535" fill="none" stroke="#d4d4d4" strokeWidth={0.8} />
      <polyline points="944.2,518 944.2,531.7 989.6,531.7" fill="none" stroke="#d4d4d4" strokeWidth={0.8} />
      <polyline points="989.6,524.3 989.6,535.7" fill="none" stroke="#d4d4d4" strokeWidth={0.8} />
      <polyline points="1086,525 1086,536.7" fill="none" stroke="#d4d4d4" strokeWidth={0.8} />
      <polyline points="1226,524.3 1226,536.7" fill="none" stroke="#d4d4d4" strokeWidth={0.8} />
      <Caption cx={934.8} y={575} tag="(g)" word="Filter" />
    </svg>
  );
}
